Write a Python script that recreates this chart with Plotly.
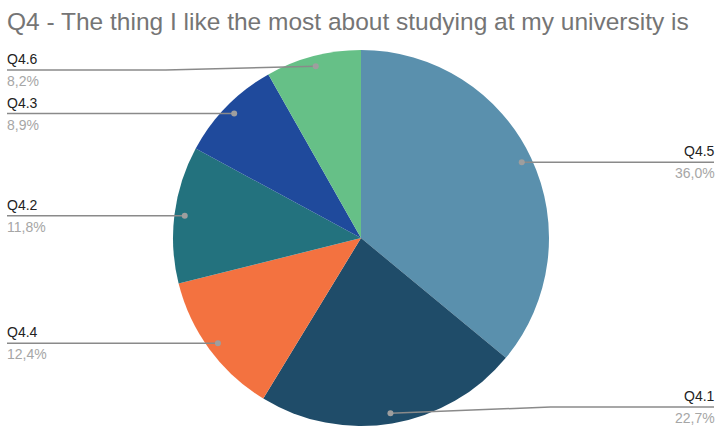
import math
import plotly.graph_objects as go

# ---- data ----
labels = ["Q4.5", "Q4.1", "Q4.4", "Q4.2", "Q4.3", "Q4.6"]
values = [36.0, 22.7, 12.4, 11.8, 8.9, 8.2]
colors = ["#5a90ad", "#1f4c69", "#f37240", "#23727e", "#1f4a9c", "#66c087"]
title_text = "Q4 - The thing I like the most about studying at my university is"

W, H = 719, 427
cx, cy, R = 361, 238, 188  # pie centre / radius in pixels
font_family = "Liberation Sans, Arial, sans-serif"

fig = go.Figure(go.Pie(
    labels=labels, values=values, sort=False, direction="clockwise", rotation=0,
    marker=dict(colors=colors, line=dict(width=0)),
    textinfo="none", hoverinfo="label+percent", showlegend=False,
    domain=dict(x=[(cx - R) / W, (cx + R) / W], y=[1 - (cy + R) / H, 1 - (cy - R) / H]),
))

def px(x):
    return x / W

def py(y):
    return 1 - y / H

shapes = []
annotations = []
total = sum(values)
cum = 0.0
for lab, v in zip(labels, values):
    mid = (cum + v / 2) / total * 2 * math.pi
    cum += v
    dx, dy = math.sin(mid), -math.cos(mid)
    dotx, doty = cx + 0.945 * R * dx, cy + 0.945 * R * dy
    liney = min(max(doty, 70), 407)
    right = dx > 0
    edge = 714 if right else 7
    bendx = dotx + (160 if right else -150) if abs(liney - doty) > 0.5 else dotx
    path = (f"M {px(edge)},{py(liney)} L {px(bendx)},{py(liney)} "
            f"L {px(dotx)},{py(doty)}")
    shapes.append(dict(type="path", xref="paper", yref="paper", path=path,
                       line=dict(color="#8a8a8a", width=1.5), layer="above"))
    r = 3
    shapes.append(dict(type="circle", xref="paper", yref="paper",
                       x0=px(dotx - r), x1=px(dotx + r), y0=py(doty + r), y1=py(doty - r),
                       fillcolor="#9e9e9e", line=dict(width=0), layer="above"))
    anchor = "right" if right else "left"
    annotations.append(dict(x=px(edge), y=py(liney - 1), xref="paper", yref="paper",
                            text=lab, showarrow=False, xanchor=anchor, yanchor="bottom",
                            xshift=(3 if right else -2),
                            font=dict(family=font_family, size=14, color="#222222")))
    pct = f"{v:.1f}".replace(".", ",") + "%"
    annotations.append(dict(x=px(edge), y=py(liney + 1), xref="paper", yref="paper",
                            text=pct, showarrow=False, xanchor=anchor, yanchor="top",
                            xshift=(3 if right else -2),
                            font=dict(family=font_family, size=14, color="#a6a6a6")))

fig.update_layout(
    width=W, height=H,
    margin=dict(l=0, r=0, t=0, b=0),
    paper_bgcolor="white", plot_bgcolor="white",
    title=dict(text=title_text, x=7 / W, xanchor="left", xref="paper",
               y=1 - 21 / H, yanchor="middle",
               font=dict(family=font_family, size=24.5, color="#757575")),
    shapes=shapes, annotations=annotations,
)

fig.write_html("out.html", config={"displayModeBar": False})
with open("out.html", "r", encoding="utf-8") as f:
    html = f.read()
html = html.replace("<head>", "<head><style>html,body{margin:0;padding:0;overflow:hidden}</style>", 1)
with open("out.html", "w", encoding="utf-8") as f:
    f.write(html)
